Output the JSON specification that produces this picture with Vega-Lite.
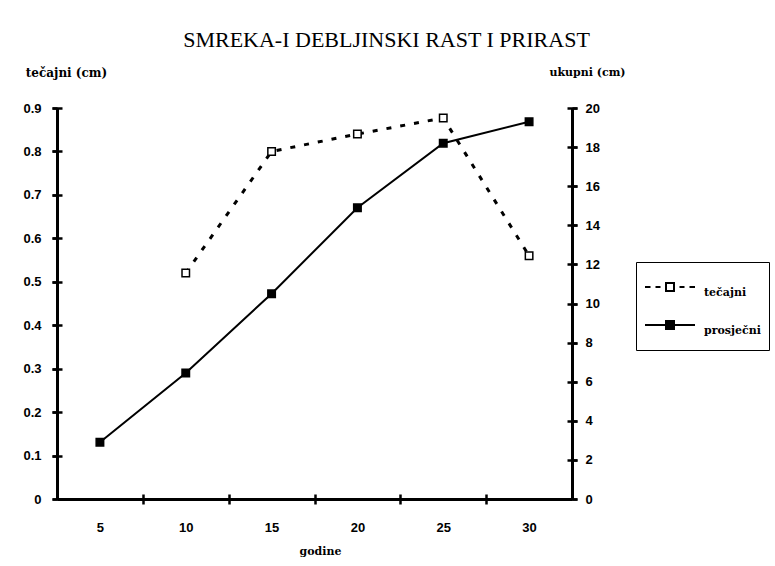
{
  "$schema": "https://vega.github.io/schema/vega-lite/v6.json",
  "autosize": "none",
  "width": 515,
  "height": 391,
  "padding": {"left": 57, "top": 108, "right": 203, "bottom": 67},
  "background": "white",
  "title": {
    "text": "SMREKA-I  DEBLJINSKI RAST I PRIRAST",
    "font": "Liberation Serif",
    "fontSize": 22,
    "fontWeight": "normal",
    "color": "black",
    "anchor": "middle",
    "frame": "group",
    "dx": 72,
    "dy": -4,
    "offset": 10
  },
  "data": {
    "values": [
      {"godine": 10, "serija": "tečajni", "vrijednost": 0.52},
      {"godine": 15, "serija": "tečajni", "vrijednost": 0.80},
      {"godine": 20, "serija": "tečajni", "vrijednost": 0.84},
      {"godine": 25, "serija": "tečajni", "vrijednost": 0.877},
      {"godine": 30, "serija": "tečajni", "vrijednost": 0.56},
      {"godine": 5, "serija": "prosječni", "vrijednost": 2.9},
      {"godine": 10, "serija": "prosječni", "vrijednost": 6.45},
      {"godine": 15, "serija": "prosječni", "vrijednost": 10.5},
      {"godine": 20, "serija": "prosječni", "vrijednost": 14.9},
      {"godine": 25, "serija": "prosječni", "vrijednost": 18.2},
      {"godine": 30, "serija": "prosječni", "vrijednost": 19.3}
    ]
  },
  "layer": [
    {
      "transform": [{"filter": "datum.serija === 'tečajni'"}],
      "encoding": {
        "x": {
          "field": "godine", "type": "quantitative",
          "scale": {"domain": [2.5, 32.5], "nice": false, "zero": false},
          "axis": {
            "orient": "bottom", "values": [5, 10, 15, 20, 25, 30], "ticks": false, "domain": true,
            "labelPadding": 22, "labelFlush": false, "title": "godine", "titleX": 263, "titleY": 52,
            "titleAlign": "center", "titleBaseline": "middle", "titleFont": "DejaVu Serif",
            "titleFontWeight": "bold", "titleFontSize": 11
          }
        }
      },
      "layer": [
        {
          "mark": {"type": "line", "color": "black", "strokeWidth": 3, "strokeDash": [5, 9]},
          "encoding": {
            "y": {
              "field": "vrijednost", "type": "quantitative",
              "scale": {"domain": [0, 0.9], "nice": false},
              "axis": {
                "orient": "left", "values": [0, 0.1, 0.2, 0.3, 0.4, 0.5, 0.6, 0.7, 0.8, 0.9], "format": "~g",
                "tickSize": 5, "labelPadding": 11, "title": "tečajni (cm)", "titleAngle": 0,
                "titleX": 9, "titleY": -36, "titleAlign": "center", "titleBaseline": "middle",
                "titleFont": "DejaVu Serif", "titleFontWeight": "bold", "titleFontSize": 12
              }
            }
          }
        },
        {
          "mark": {"type": "point", "shape": "square", "size": 56, "filled": true, "stroke": "black", "strokeWidth": 1.5, "opacity": 1},
          "encoding": {
            "y": {
              "field": "vrijednost", "type": "quantitative",
              "scale": {"domain": [0, 0.9], "nice": false},
              "axis": {
                "orient": "left", "values": [0, 0.1, 0.2, 0.3, 0.4, 0.5, 0.6, 0.7, 0.8, 0.9],
                "offset": -5, "tickSize": 10, "labels": false, "domain": false, "title": null
              }
            },
            "fill": {
              "field": "serija", "type": "nominal",
              "scale": {"domain": ["tečajni", "prosječni"], "range": ["white", "black"]}
            }
          }
        }
      ],
      "resolve": {"axis": {"y": "independent"}}
    },
    {
      "transform": [{"filter": "datum.serija === 'prosječni'"}],
      "encoding": {
        "x": {
          "field": "godine", "type": "quantitative",
          "scale": {"domain": [2.5, 32.5], "nice": false, "zero": false},
          "axis": {
            "orient": "bottom", "values": [7.5, 12.5, 17.5, 22.5, 27.5], "ticks": true, "tickSize": 10,
            "offset": -5, "domain": false, "labels": false, "title": null
          }
        }
      },
      "layer": [
        {
          "mark": {"type": "line", "color": "black", "strokeWidth": 2},
          "encoding": {
            "y": {
              "field": "vrijednost", "type": "quantitative",
              "scale": {"domain": [0, 20], "nice": false},
              "axis": {
                "orient": "right", "values": [0, 2, 4, 6, 8, 10, 12, 14, 16, 18, 20],
                "tickSize": 5, "labelPadding": 8, "title": "ukupni (cm)", "titleAngle": 0,
                "titleX": 15, "titleY": -36, "titleAlign": "center", "titleBaseline": "middle",
                "titleFont": "DejaVu Serif", "titleFontWeight": "bold", "titleFontSize": 11
              }
            }
          }
        },
        {
          "mark": {"type": "point", "shape": "square", "size": 56, "filled": true, "stroke": "black", "strokeWidth": 1.5, "opacity": 1},
          "encoding": {
            "y": {
              "field": "vrijednost", "type": "quantitative",
              "scale": {"domain": [0, 20], "nice": false},
              "axis": {
                "orient": "right", "values": [0, 2, 4, 6, 8, 10, 12, 14, 16, 18, 20],
                "offset": -5, "tickSize": 10, "labels": false, "domain": false, "title": null
              }
            },
            "fill": {
              "field": "serija", "type": "nominal",
              "scale": {"domain": ["tečajni", "prosječni"], "range": ["white", "black"]}
            }
          }
        },
        {
          "mark": {"type": "point", "filled": true, "opacity": 0, "size": 2500},
          "encoding": {
            "y": {
              "field": "vrijednost", "type": "quantitative",
              "scale": {"domain": [0, 20], "nice": false},
              "axis": null
            },
            "shape": {
              "field": "serija", "type": "nominal",
              "scale": {
                "domain": ["tečajni", "prosječni"],
                "range": [
                  "M-1,0H-0.78M-0.58,0H-0.38M0.38,0H0.58M0.78,0H1M-0.16,-0.16H0.16V0.16H-0.16Z",
                  "M-1,0H1M-0.16,-0.16H0.16V0.16H-0.16Z"
                ]
              },
              "legend": {
                "title": null, "orient": "none", "legendX": 579, "legendY": 154,
                "strokeColor": "black", "padding": 8, "symbolSize": 2500, "clipHeight": 34,
                "rowPadding": 4, "labelOffset": 8, "labelBaseline": "top",
                "symbolOpacity": 1, "symbolStrokeColor": "black", "symbolStrokeWidth": 2,
                "labelFont": "DejaVu Serif", "labelFontWeight": "bold", "labelFontSize": 11, "labelColor": "black"
              }
            },
            "fill": {
              "field": "serija", "type": "nominal",
              "scale": {"domain": ["tečajni", "prosječni"], "range": ["white", "black"]},
              "legend": {
                "title": null, "orient": "none", "legendX": 579, "legendY": 154,
                "strokeColor": "black", "padding": 8, "symbolSize": 2500, "clipHeight": 34,
                "rowPadding": 4, "labelOffset": 8, "labelBaseline": "top",
                "symbolOpacity": 1, "symbolStrokeColor": "black", "symbolStrokeWidth": 2,
                "labelFont": "DejaVu Serif", "labelFontWeight": "bold", "labelFontSize": 11, "labelColor": "black"
              }
            }
          }
        }
      ],
      "resolve": {"axis": {"y": "independent"}}
    }
  ],
  "resolve": {"scale": {"y": "independent"}, "axis": {"x": "independent"}},
  "config": {
    "view": {"stroke": null},
    "axis": {
      "labelFont": "Liberation Sans", "labelFontWeight": "bold", "labelFontSize": 13, "labelColor": "black",
      "tickColor": "black", "domainColor": "black", "tickWidth": 2.5, "domainWidth": 3, "grid": false,
      "titleColor": "black"
    }
  }
}
